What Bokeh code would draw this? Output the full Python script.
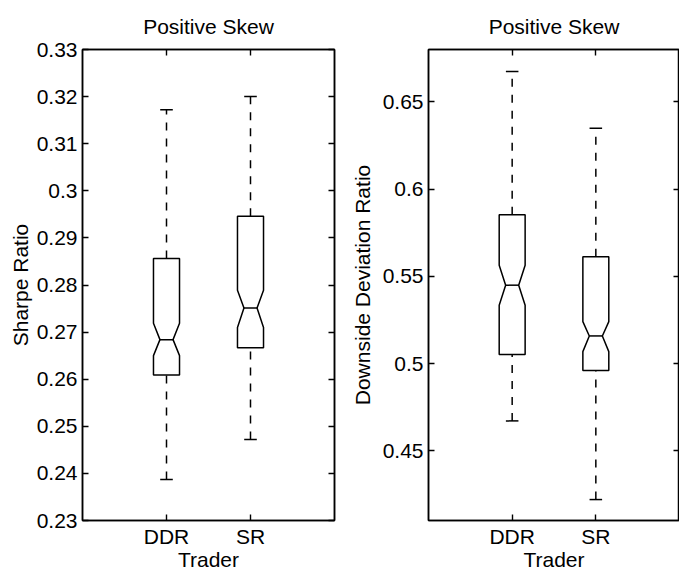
from bokeh.plotting import figure
from bokeh.layouts import row
from bokeh.models import Range1d, FixedTicker, LinearAxis, CustomLabelingPolicy
from bokeh.embed import file_html
from bokeh.resources import INLINE

# ---------------- data ----------------
categories = ["DDR", "SR"]
cat_pos = [1, 2]

# Panel 1: Sharpe Ratio
sh_whisker_lo = [0.2387, 0.2472]
sh_q1 = [0.2609, 0.2667]
sh_notch_lo = [0.2650, 0.2710]
sh_median = [0.2684, 0.2751]
sh_notch_hi = [0.2719, 0.2789]
sh_q3 = [0.2856, 0.2946]
sh_whisker_hi = [0.3172, 0.3200]
sh_yticks = [0.23, 0.24, 0.25, 0.26, 0.27, 0.28, 0.29, 0.3, 0.31, 0.32, 0.33]
sh_ytick_labels = ["0.23", "0.24", "0.25", "0.26", "0.27", "0.28", "0.29", "0.3", "0.31", "0.32", "0.33"]
sh_yrange = [0.23, 0.33]

# Panel 2: Downside Deviation Ratio
dd_whisker_lo = [0.4671, 0.4220]
dd_q1 = [0.5051, 0.4960]
dd_notch_lo = [0.5334, 0.5068]
dd_median = [0.5449, 0.5158]
dd_notch_hi = [0.5563, 0.5240]
dd_q3 = [0.5852, 0.5612]
dd_whisker_hi = [0.6674, 0.6348]
dd_yticks = [0.45, 0.5, 0.55, 0.6, 0.65]
dd_ytick_labels = ["0.45", "0.5", "0.55", "0.6", "0.65"]
dd_yrange = [0.41, 0.68]

x_range_lim = [0, 3]
title_text = "Positive Skew"
x_label = "Trader"

FONT = "Liberation Sans"
FS = "21px"
BOX_HALF = 0.155
NOTCH_HALF = 0.078
CAP_HALF = 0.075
LW = 1.5


def style_axis(ax, font_size=FS):
    ax.major_tick_in = 6
    ax.major_tick_out = 0
    ax.minor_tick_line_color = None
    ax.axis_line_color = "black"
    ax.axis_line_width = 1.5
    ax.major_tick_line_color = "black"
    ax.major_tick_line_width = 1.4
    ax.major_label_text_font = FONT
    ax.major_label_text_font_size = font_size
    ax.major_label_text_color = "black"
    ax.axis_label_text_font = FONT
    ax.axis_label_text_font_size = FS
    ax.axis_label_text_font_style = "normal"
    ax.axis_label_text_color = "black"


def tick_only_axis(ticks):
    ax = LinearAxis(ticker=FixedTicker(ticks=ticks))
    style_axis(ax, "0px")
    ax.major_label_standoff = 0
    ax.major_label_policy = CustomLabelingPolicy(code="return []")
    return ax


def make_panel(lo, q1, nlo, med, nhi, q3, hi, yrange, yticks, ylabels, ylabel,
               min_left, min_right, frame_w, ylab_standoff):
    p = figure(frame_width=frame_w, frame_height=471,
               min_border_left=min_left, min_border_right=min_right,
               min_border_top=49, min_border_bottom=49,
               x_range=Range1d(*x_range_lim), y_range=Range1d(*yrange),
               toolbar_location=None, output_backend="svg", title=title_text)
    p.xgrid.visible = False
    p.ygrid.visible = False
    p.outline_line_color = "black"
    p.outline_line_width = 1.5
    p.background_fill_color = "white"
    p.border_fill_color = "white"

    p.title.align = "center"
    p.title.text_font = FONT
    p.title.text_font_size = FS
    p.title.text_font_style = "normal"
    p.title.text_color = "black"
    p.title.standoff = 24

    # bottom axis (categories)
    xa = p.xaxis[0]
    xa.ticker = FixedTicker(ticks=cat_pos)
    xa.major_label_overrides = {k: v for k, v in zip(cat_pos, categories)}
    xa.axis_label = x_label
    style_axis(xa)
    xa.major_label_standoff = 4
    xa.axis_label_standoff = -3

    # left axis
    ya = p.yaxis[0]
    ya.ticker = FixedTicker(ticks=yticks)
    ya.major_label_overrides = {k: v for k, v in zip(yticks, ylabels)}
    ya.axis_label = ylabel
    style_axis(ya)
    ya.major_label_standoff = 5
    ya.axis_label_standoff = ylab_standoff

    # right / top axes (tick marks only)
    p.add_layout(tick_only_axis(yticks), "right")
    p.add_layout(tick_only_axis(cat_pos), "above")

    # whiskers (dashed)
    p.segment(x0=cat_pos, y0=q3, x1=cat_pos, y1=hi, line_color="black",
              line_width=LW, line_dash="8 8")
    p.segment(x0=cat_pos, y0=lo, x1=cat_pos, y1=q1, line_color="black",
              line_width=LW, line_dash="8 8")
    # caps
    p.segment(x0=[x - CAP_HALF for x in cat_pos], y0=hi,
              x1=[x + CAP_HALF for x in cat_pos], y1=hi, line_color="black", line_width=LW)
    p.segment(x0=[x - CAP_HALF for x in cat_pos], y0=lo,
              x1=[x + CAP_HALF for x in cat_pos], y1=lo, line_color="black", line_width=LW)

    # notched boxes
    xs, ys = [], []
    for x, a, b, m, c, d in zip(cat_pos, q1, nlo, med, nhi, q3):
        w, n = BOX_HALF, NOTCH_HALF
        xs.append([x - w, x + w, x + w, x + n, x + w, x + w, x - w, x - w, x - n, x - w])
        ys.append([a, a, b, m, c, d, d, c, m, b])
    p.patches(xs=xs, ys=ys, fill_color="white", line_color="black", line_width=LW)
    # median
    p.segment(x0=[x - NOTCH_HALF for x in cat_pos], y0=med,
              x1=[x + NOTCH_HALF for x in cat_pos], y1=med, line_color="black", line_width=LW)
    return p


p1 = make_panel(sh_whisker_lo, sh_q1, sh_notch_lo, sh_median, sh_notch_hi, sh_q3, sh_whisker_hi,
                sh_yrange, sh_yticks, sh_ytick_labels, "Sharpe Ratio",
                min_left=82, min_right=6, frame_w=252, ylab_standoff=2)
p2 = make_panel(dd_whisker_lo, dd_q1, dd_notch_lo, dd_median, dd_notch_hi, dd_q3, dd_whisker_hi,
                dd_yrange, dd_yticks, dd_ytick_labels, "Downside Deviation Ratio",
                min_left=88, min_right=0, frame_w=251, ylab_standoff=6)

layout = row(p1, p2)
open("out.html", "w").write(file_html(layout, INLINE))
